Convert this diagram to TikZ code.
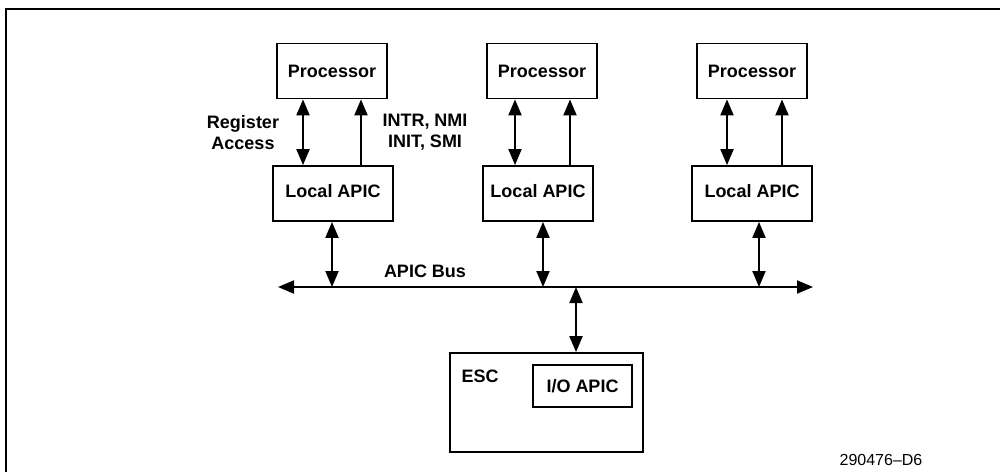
\documentclass[tikz,border=0pt]{standalone}
\usepackage{fontspec}
\setmainfont{Liberation Sans}
\usetikzlibrary{arrows.meta}
\begin{document}
\begin{tikzpicture}[x=1pt,y=-1pt,
  box/.style={draw, line width=1.8pt, inner sep=0pt, font=\bfseries\fontsize{18}{21}\selectfont},
  lbl/.style={font=\bfseries\fontsize{18}{21}\selectfont, align=center, inner sep=0pt},
  link/.style={line width=2pt},
  uptip/.style={-{Triangle[width=13pt,length=16pt]}},
  twoway/.style={{Triangle[width=13pt,length=16pt]}-{Triangle[width=13pt,length=16pt]}}]
\useasboundingbox (0,0) rectangle (1000,472);
% frame
\draw[line width=2pt] (1000,9) -- (6,9) -- (6,472);
% processors
\node[box, minimum width=110pt, minimum height=55pt] (p1) at (332,71) {Processor};
\node[box, minimum width=110pt, minimum height=55pt] (p2) at (542,71) {Processor};
\node[box, minimum width=110pt, minimum height=55pt] (p3) at (752,71) {Processor};
% local APICs
\node[box, minimum width=120pt, minimum height=55pt] (l1) at (333,193.5) {\raisebox{6pt}{Local APIC}};
\node[box, minimum width=110pt, minimum height=55pt] (l2) at (538,193.5) {\raisebox{6pt}{Local APIC}};
\node[box, minimum width=120pt, minimum height=55pt] (l3) at (752,193.5) {\raisebox{6pt}{Local APIC}};
% labels
\node[lbl] (ra) at (243,132.5) {Register\\Access};
\node[lbl] (intr) at (425,132.5) {INTR, NMI\\INIT, SMI};
\node[lbl] (bus) at (425,271) {APIC Bus};
% processor <-> local APIC
\coordinate (a1) at (303,0); \coordinate (b1) at (361,0);
\coordinate (a2) at (515,0); \coordinate (b2) at (570,0);
\coordinate (a3) at (727,0); \coordinate (b3) at (782,0);
\foreach \i in {1,2,3}{
  \draw[link,twoway] (a\i |- p\i.south) -- (a\i |- l\i.north);
  \draw[link,uptip] (b\i |- l\i.north) -- (b\i |- p\i.south);
}
% bus
\coordinate (busL) at (278,287);
\coordinate (busR) at (813,287);
\draw[link,twoway] (busL) -- (busR);
\coordinate (v1) at (332,287);
\coordinate (v2) at (543,287);
\coordinate (v3) at (759,287);
\foreach \i in {1,2,3}{
  \draw[link,twoway] (v\i |- l\i.south) -- (v\i);
}
% ESC
\node[box, minimum width=193pt, minimum height=99pt] (esc) at (546.5,402.5) {};
\node[lbl] (esclbl) at (480,376) {ESC};
\node[box, minimum width=99pt, minimum height=42pt] (io) at (582.5,386) {I/O APIC};
\coordinate (v4) at (576,287);
\draw[link,twoway] (v4) -- (v4 |- esc.north);
% figure number
\node[font=\fontsize{16}{18}\selectfont, inner sep=0pt] (fig) at (881,460) {290476–D6};
\end{tikzpicture}
\end{document}
